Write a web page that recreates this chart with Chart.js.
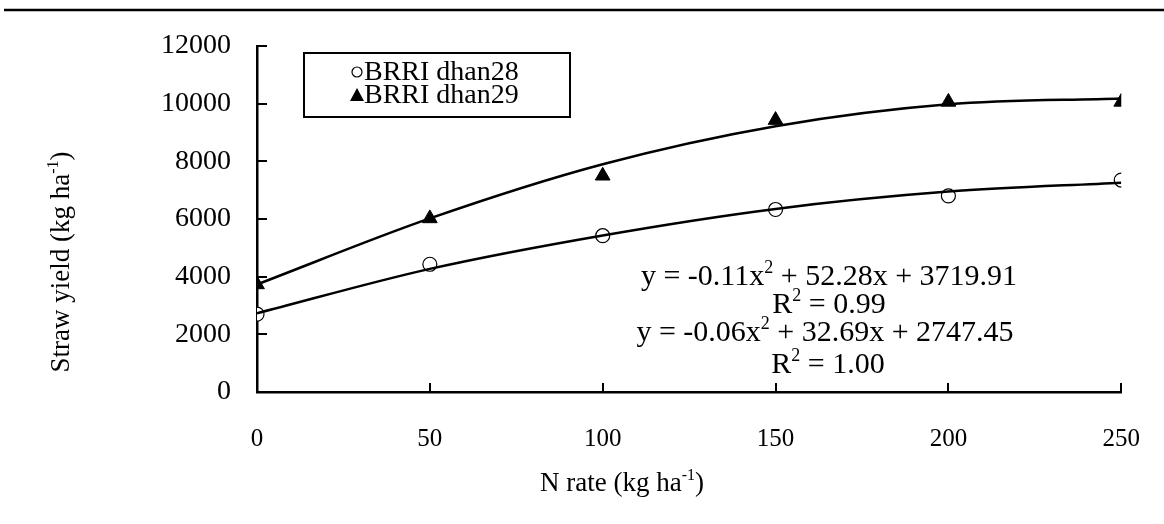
<!DOCTYPE html>
<html>
<head>
<meta charset="utf-8">
<script src="https://cdn.jsdelivr.net/npm/chart.js@4.4.0/dist/chart.umd.min.js"></script>
<style>
    html, body {margin: 0; padding: 0; background: #fff;}
</style>
</head>
<body>
<canvas id="chart" width="1164" height="524"></canvas>
<script>
// values
const nRate  = [0, 50, 100, 150, 200, 250];
const dhan28 = [2700, 4430, 5420, 6330, 6800, 7350];
const dhan29 = [3730, 6020, 7500, 9430, 10060, 10060];
// trend lines
const fit28  = [2730, 4270, 5430, 6350, 6950, 7260];
const fit29  = [3730, 6020, 7900, 9220, 9980, 10180];

const xTicks = [0, 50, 100, 150, 200, 250];
const yTicks = [0, 2000, 4000, 6000, 8000, 10000, 12000];
const names  = ['BRRI dhan28', 'BRRI dhan29'];

// [text, superscript, text] pieces
const eq29   = ['y = -0.11x', '2', ' + 52.28x + 3719.91'];
const r29    = ['R', '2', ' = 0.99'];
const eq28   = ['y = -0.06x', '2', ' + 32.69x + 2747.45'];
const r28    = ['R', '2', ' = 1.00'];
const xTitle = ['N rate (kg ha', '-1', ')'];
const yTitle = ['Straw yield (kg ha', '-1', ')'];

const FONT = '"Liberation Serif", "Times New Roman", serif';
const pts  = (xs, ys) => xs.map((x, i) => ({x, y: ys[i]}));

// draws text with superscripts centred at (cx, cy)
function richText(ctx, parts, cx, cy, size) {
    const sup = Math.round(size * 0.6);
    const fonts = parts.map((p, i) => `${i % 2 ? sup : size}px ${FONT}`);
    const widths = parts.map((p, i) => {ctx.font = fonts[i]; return ctx.measureText(p).width});
    let x = cx - widths.reduce((a, b) => a + b, 0) / 2;
    ctx.textAlign = 'left';
    ctx.textBaseline = 'middle';
    parts.forEach((p, i) => {
        ctx.font = fonts[i];
        ctx.fillText(p, x, i % 2 ? cy - size * 0.3 : cy);
        x += widths[i];
    });
}

const decor = {
    id: 'decor',
    afterDraw(chart) {
        const {ctx, chartArea: area, scales: {x, y}} = chart;
        ctx.save();
        ctx.fillStyle = '#000';
        ctx.strokeStyle = '#000';

        // rule across the top of the figure
        ctx.lineWidth = 2.5;
        ctx.beginPath();
        ctx.moveTo(4, 10);
        ctx.lineTo(1164, 10);
        ctx.stroke();

        // inward tick marks
        ctx.lineWidth = 2;
        ctx.beginPath();
        x.ticks.forEach(t => {
            const px = Math.round(x.getPixelForValue(t.value));
            ctx.moveTo(px, area.bottom);
            ctx.lineTo(px, area.bottom - 9);
        });
        y.ticks.forEach(t => {
            const py = Math.round(y.getPixelForValue(t.value));
            ctx.moveTo(area.left, py);
            ctx.lineTo(area.left + 10, py);
        });
        ctx.stroke();

        // legend box
        ctx.lineWidth = 2;
        ctx.strokeRect(304, 53, 266, 64);
        const rows = [72, 95];
        rows.forEach((ry, i) => {
            const mx = 357;
            ctx.lineWidth = 1.2;
            ctx.beginPath();
            if (i === 0) {
                ctx.arc(mx, ry, 5, 0, Math.PI * 2);
                ctx.fillStyle = '#fff';
                ctx.fill();
                ctx.stroke();
            } else {
                ctx.moveTo(mx, ry - 7);
                ctx.lineTo(mx + 7, ry + 6);
                ctx.lineTo(mx - 7, ry + 6);
                ctx.closePath();
                ctx.fillStyle = '#000';
                ctx.fill();
            }
            ctx.fillStyle = '#000';
            ctx.font = `28px ${FONT}`;
            ctx.textAlign = 'left';
            ctx.textBaseline = 'middle';
            ctx.fillText(names[i], 364, ry + 1);
        });

        // regression equations
        richText(ctx, eq29, 829, 277, 30);
        richText(ctx, r29, 829, 305, 30);
        richText(ctx, eq28, 825, 333, 30);
        richText(ctx, r28, 828, 365, 30);

        // axis titles
        richText(ctx, xTitle, 622, 484, 27);
        ctx.translate(62, 262);
        ctx.rotate(-Math.PI / 2);
        richText(ctx, yTitle, 0, 0, 27);
        ctx.restore();
    }
};

new Chart(document.getElementById('chart'), {
    type: 'scatter',
    data: {
        datasets: [
            {label: names[0] + ' trend', data: pts(nRate, fit28), showLine: true, borderColor: '#000',
             borderWidth: 2.5, pointRadius: 0, cubicInterpolationMode: 'monotone'},
            {label: names[1] + ' trend', data: pts(nRate, fit29), showLine: true, borderColor: '#000',
             borderWidth: 2.5, pointRadius: 0, cubicInterpolationMode: 'monotone'},
            {label: names[0], data: pts(nRate, dhan28), pointStyle: 'circle', pointRadius: 7,
             backgroundColor: '#fff', borderColor: '#000', borderWidth: 1.2},
            {label: names[1], data: pts(nRate, dhan29), pointStyle: 'triangle', pointRadius: 8.5,
             backgroundColor: '#000', borderColor: '#000', borderWidth: 1}
        ]
    },
    options: {
        responsive: false,
        devicePixelRatio: 1,
        animation: false,
        layout: {padding: {left: 0, top: 46, right: 27, bottom: 0}},
        plugins: {legend: {display: false}, tooltip: {enabled: false}},
        scales: {
            x: {
                type: 'linear', min: 0, max: 250,
                afterBuildTicks: s => {s.ticks = xTicks.map(value => ({value}))},
                afterFit: s => {s.height = 132},
                grid: {display: false},
                border: {display: true, color: '#000', width: 2.5},
                ticks: {color: '#000', padding: 24, font: {family: FONT, size: 25}}
            },
            y: {
                type: 'linear', min: 0, max: 12000,
                afterBuildTicks: s => {s.ticks = yTicks.map(value => ({value}))},
                afterFit: s => {s.width = 257},
                grid: {display: false},
                border: {display: true, color: '#000', width: 2.5},
                ticks: {color: '#000', padding: 18, font: {family: FONT, size: 28},
                        callback: v => String(v)}
            }
        }
    },
    plugins: [decor]
});
</script>
</body>
</html>
